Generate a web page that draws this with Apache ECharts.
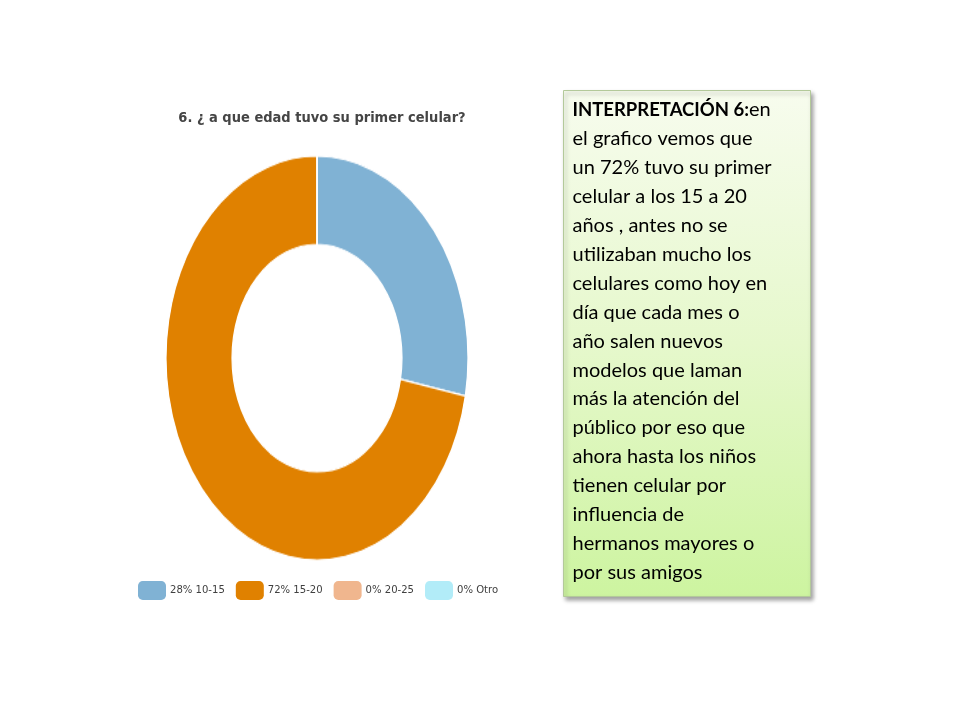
<!DOCTYPE html>
<html>
<head>
<meta charset="utf-8">
<script src="https://cdn.jsdelivr.net/npm/echarts@6/dist/echarts.min.js"></script>
<style>
  html, body { margin: 0; padding: 0; background: #ffffff; }
  #base { position: absolute; left: 0; top: 0; width: 960px; height: 720px; }
  #donut { position: absolute; left: 157px; top: 198px; width: 320px; height: 320px;
           transform: scaleY(1.338); transform-origin: 50% 50%; pointer-events: none; }
</style>
</head>
<body>
<div id="base"></div>
<div id="donut"></div>
<script>
const titleText = '6. ¿ a que edad tuvo su primer celular?';
const categories = ['10-15', '15-20', '20-25', 'Otro'];
const values = [28, 72, 0, 0];
const colors = ['#80b2d4', '#e08100', '#f0b68e', '#b2ecf8'];
const boxHeading = 'INTERPRETACIÓN 6:';
const boxLines = [
  'en',
  'el grafico vemos que',
  'un 72% tuvo su primer',
  'celular a los 15 a 20',
  'años , antes no se',
  'utilizaban mucho los',
  'celulares como hoy en',
  'día que cada mes o',
  'año salen nuevos',
  'modelos que laman',
  'más la atención del',
  'público por eso que',
  'ahora hasta los niños',
  'tienen celular por',
  'influencia de',
  'hermanos mayores o',
  'por sus amigos'
];

const condensed = "'DejaVu Sans Condensed', 'Roboto Condensed', Roboto, sans-serif";
const pieData = categories.map((c, i) => ({ name: c, value: values[i], itemStyle: { color: colors[i] } }));

// Donut (drawn in a vertically stretched container to get the elliptical look)
const donut = echarts.init(document.getElementById('donut'), null, { renderer: 'canvas' });
donut.setOption({
  animation: false,
  series: [{
    type: 'pie',
    center: ['50%', '50%'],
    radius: [85, 151],
    startAngle: 90,
    clockwise: true,
    label: { show: false },
    labelLine: { show: false },
    emphasis: { disabled: true },
    itemStyle: { borderColor: '#ffffff', borderWidth: 1.2 },
    data: pieData
  }]
});

// Title, legend, interpretation box
const base = echarts.init(document.getElementById('base'), null, { renderer: 'canvas' });
const fs = 20, lh = 28.9;
const richText = '{b|' + boxHeading + '}{n|' + boxLines[0] + '}\n' +
  boxLines.slice(1).map(l => '{n|' + l + '}').join('\n');
base.setOption({
  animation: false,
  backgroundColor: '#ffffff',
  title: {
    text: titleText,
    left: 317, top: 106, textAlign: 'center',
    textStyle: { fontFamily: condensed, fontWeight: 'bold', fontSize: 14.5, color: '#454545' }
  },
  legend: {
    data: categories,
    left: 138, top: 581, padding: 0,
    icon: 'roundRect',
    itemWidth: 28, itemHeight: 19, itemGap: 11,
    selectedMode: false,
    formatter: name => values[categories.indexOf(name)] + '% ' + name,
    textStyle: { fontFamily: condensed, fontSize: 11.2, color: '#404040', padding: [0, 0, 0, -1] }
  },
  series: [{
    type: 'pie',
    center: [-200, -200],
    radius: 1,
    silent: true,
    label: { show: false },
    data: pieData
  }],
  graphic: [{
    type: 'group',
    left: 563, top: 90,
    children: [{
      type: 'rect',
      shape: { x: 0, y: 0, width: 247, height: 506 },
      style: {
        fill: new echarts.graphic.LinearGradient(0, 0, 0, 1, [
          { offset: 0, color: '#f7fcee' },
          { offset: 0.5, color: '#e6f8cc' },
          { offset: 1, color: '#cdf4a0' }
        ]),
        stroke: '#b3c99a', lineWidth: 1,
        shadowColor: 'rgba(0,0,0,0.35)', shadowBlur: 4, shadowOffsetX: 2, shadowOffsetY: 3
      }
    }, {
      type: 'text',
      x: 9, y: 5,
      style: {
        text: richText,
        fill: '#000000',
        fontFamily: 'Lato',
        fontSize: fs,
        lineHeight: lh,
        rich: {
          b: { fontFamily: 'Lato', fontWeight: 'bold', fontSize: 18.5, lineHeight: lh, fill: '#000' },
          n: { fontFamily: 'Lato', fontSize: fs, lineHeight: lh, fill: '#000' }
        }
      }
    }]
  }]
});
</script>
</body>
</html>
